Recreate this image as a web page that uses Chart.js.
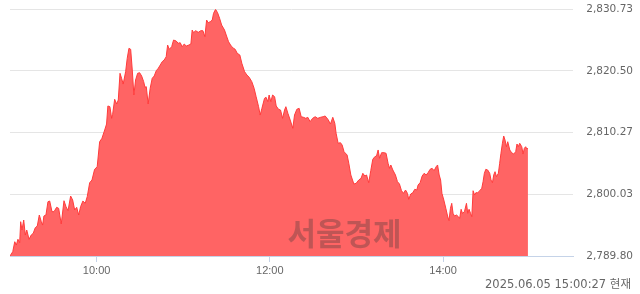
<!DOCTYPE html>
<html>
<head>
<meta charset="utf-8">
<script src="https://cdn.jsdelivr.net/npm/chart.js@4.4.1/dist/chart.umd.min.js"></script>
<style>
  body { margin: 0; background: #fff; }
  #wrap { width: 640px; height: 294px; }
</style>
</head>
<body>
<div id="wrap"><canvas id="kospiChart" width="640" height="294"></canvas></div>
<script>
// minutes after 09:00 and index values
const minutes = [
    0, 1.9, 3.3, 4.4, 5.5, 6.7, 7.4, 8.3, 9.5, 10.6,
    11.6, 13.2, 14.7, 16.1, 17.5, 18.9, 20.3, 21.7, 22.6, 23.5,
    24.9, 26.3, 27.5, 29.1, 30.5, 32.3, 33.7, 35.5, 37.4, 38.8,
    40.2, 42.0, 43.4, 44.8, 46.2, 47.6, 48.9, 50.5, 52.1, 53.5,
    55.2, 56.8, 58.6, 60.4, 62.1, 63.7, 65.6, 66.9, 67.8, 69.2,
    70.4, 71.1, 72.5, 73.9, 75.0, 76.2, 77.3, 78.4, 80.1, 81.2,
    82.4, 83.6, 84.7, 85.8, 87.0, 88.4, 89.8, 91.2, 92.6, 93.5,
    94.4, 95.7, 97.1, 98.5, 99.9, 101.3, 102.7, 104.1, 105.4, 106.8,
    108.2, 109.2, 110.3, 112.0, 113.3, 115.1, 116.5, 117.9, 119.3, 120.7,
    122.1, 123.9, 125.3, 126.2, 127.2, 128.6, 130.4, 132.2, 133.6, 135.0,
    136.2, 137.3, 138.7, 140.1, 141.0, 142.4, 143.8, 145.2, 146.6, 148.6,
    150.0, 151.4, 153.2, 154.9, 156.0, 157.4, 159.2, 160.6, 162.5, 164.1,
    165.7, 167.5, 169.1, 170.5, 172.2, 173.3, 174.5, 176.3, 177.4, 178.6,
    179.5, 180.7, 181.9, 183.3, 184.4, 186.0, 187.4, 188.8, 190.2, 191.1,
    192.5, 194.1, 195.9, 197.1, 198.7, 200.3, 201.7, 203.3, 204.9, 206.3,
    207.9, 209.6, 211.4, 213.2, 215.1, 216.9, 218.3, 220.2, 222.0, 223.6,
    225.0, 225.9, 227.3, 228.9, 230.1, 231.4, 233.5, 234.7, 236.1, 238.2,
    239.8, 241.6, 243.2, 244.4, 245.8, 247.0, 248.5, 249.9, 251.3, 252.7,
    253.9, 255.0, 256.0, 257.4, 259.1, 260.5, 261.9, 262.9, 263.8, 265.2,
    267.0, 268.4, 269.8, 271.2, 272.6, 274.0, 275.3, 276.2, 277.6, 279.0,
    280.4, 281.8, 282.7, 284.1, 285.5, 286.9, 288.3, 289.6, 291.0, 292.4,
    293.8, 295.2, 296.2, 297.3, 298.3, 299.2, 300.5, 301.9, 303.1, 304.1,
    305.1, 306.0, 306.9, 307.9, 309.3, 310.6, 311.5, 312.5, 313.4, 314.8,
    316.2, 317.1, 318.0, 319.0, 319.9, 320.8, 321.8, 322.7, 324.0, 325.4,
    326.8, 327.7, 328.6, 329.6, 330.9, 332.3, 333.2, 334.2, 335.1, 336.0,
    337.0, 338.3, 339.2, 340.1, 341.1, 342.0, 342.9, 343.9, 344.8, 346.2,
    347.5, 348.9, 350.3, 351.2, 352.1, 353.1, 354.5, 355.4, 356.3, 357.2, 358.1, 358.8
];
const values = [
    2789.80, 2790.51, 2792.17, 2791.62, 2792.57, 2792.01, 2795.49, 2794.11, 2795.77, 2793.28,
    2794.11, 2792.57, 2793.28, 2793.57, 2794.49, 2794.78, 2796.60, 2795.49, 2794.94, 2796.44,
    2796.60, 2798.81, 2798.92, 2797.15, 2797.15, 2797.88, 2797.71, 2795.11, 2798.97, 2797.98,
    2797.32, 2799.75, 2799.09, 2797.43, 2797.88, 2796.60, 2797.98, 2798.92, 2798.54, 2799.64,
    2801.96, 2802.41, 2804.18, 2804.61, 2808.76, 2809.33, 2810.70, 2811.70, 2814.69, 2814.57,
    2812.64, 2813.31, 2815.80, 2815.02, 2815.68, 2820.11, 2819.28, 2818.33, 2820.38, 2822.60,
    2824.26, 2824.09, 2820.66, 2816.51, 2819.00, 2820.11, 2820.21, 2819.66, 2818.72, 2817.79,
    2817.89, 2815.02, 2817.62, 2819.28, 2819.66, 2820.54, 2820.94, 2821.49, 2822.03, 2822.32,
    2822.86, 2824.80, 2824.09, 2824.52, 2825.63, 2825.47, 2825.09, 2825.19, 2824.52, 2824.97,
    2824.64, 2824.80, 2824.97, 2827.29, 2826.85, 2827.18, 2826.91, 2827.18, 2827.18, 2826.18,
    2828.95, 2828.51, 2828.67, 2828.95, 2830.06, 2830.73, 2830.16, 2829.23, 2828.12, 2827.29,
    2826.30, 2825.35, 2824.64, 2824.26, 2824.09, 2823.43, 2823.15, 2821.77, 2820.38, 2819.83,
    2819.45, 2818.72, 2817.62, 2816.23, 2814.57, 2813.19, 2814.30, 2815.96, 2816.13, 2815.40,
    2816.51, 2815.40, 2816.51, 2816.23, 2814.69, 2814.14, 2814.02, 2812.64, 2814.02, 2814.57,
    2813.47, 2812.36, 2810.99, 2813.19, 2814.14, 2814.30, 2812.91, 2812.81, 2812.64, 2812.81,
    2812.08, 2812.64, 2812.91, 2812.64, 2812.81, 2812.91, 2813.03, 2812.48, 2811.70, 2812.81,
    2811.82, 2810.16, 2808.50, 2808.60, 2808.21, 2807.10, 2806.56, 2805.18, 2803.24, 2801.74,
    2801.86, 2802.41, 2802.69, 2803.52, 2803.07, 2803.24, 2801.96, 2803.95, 2805.84, 2806.27,
    2806.39, 2807.39, 2806.01, 2806.94, 2806.94, 2806.84, 2805.18, 2804.35, 2804.90, 2804.07,
    2803.24, 2802.13, 2801.74, 2800.63, 2800.20, 2800.75, 2800.20, 2799.21, 2800.09, 2800.30,
    2800.87, 2800.75, 2801.58, 2801.96, 2803.07, 2803.52, 2803.24, 2803.62, 2804.18, 2804.35,
    2803.95, 2804.61, 2804.90, 2803.24, 2802.41, 2800.20, 2799.09, 2797.71, 2796.44, 2795.66,
    2797.71, 2798.54, 2796.88, 2796.44, 2796.60, 2796.32, 2796.05, 2797.55, 2796.88, 2797.15,
    2798.54, 2796.88, 2797.55, 2796.88, 2796.32, 2800.63, 2799.92, 2800.30, 2800.30, 2800.63,
    2801.03, 2802.13, 2803.52, 2804.18, 2804.07, 2803.52, 2802.41, 2801.96, 2803.24, 2803.79,
    2802.96, 2803.52, 2805.18, 2806.84, 2808.50, 2809.71, 2809.04, 2807.93, 2808.76, 2807.39,
    2806.94, 2806.72, 2807.10, 2808.38, 2807.93, 2808.50, 2807.93, 2806.72, 2807.67, 2807.93, 2807.55, 2807.67
];

const xTickMinutes = [60, 180, 300];
const xTickLabels = ['10:00', '12:00', '14:00'];
const yTicks = [2789.80, 2800.03, 2810.27, 2820.50, 2830.73];
const stampText = '2025.06.05 15:00:27 현재';
const watermarkText = '서울경제';

// 워터마크와 기준 시각 텍스트
const overlayPlugin = {
    id: 'overlay',
    afterDraw(chart) {
        const ctx = chart.ctx;
        ctx.save();
        ctx.font = 'bold 31px "Noto Sans CJK KR"';
        ctx.fillStyle = 'rgba(55, 55, 55, 0.32)';
        ctx.textAlign = 'center';
        ctx.textBaseline = 'middle';
        ctx.fillText(watermarkText, 344.5, 233);

        ctx.font = '11.5px "DejaVu Sans", "Noto Sans CJK KR"';
        ctx.fillStyle = '#666';
        ctx.textAlign = 'right';
        ctx.fillText(stampText, 631, 285.5);
        ctx.restore();
    }
};

const ctx = document.getElementById('kospiChart').getContext('2d');
new Chart(ctx, {
    type: 'line',
    data: {
        datasets: [{
            data: minutes.map((m, i) => ({ x: m, y: values[i] })),
            borderColor: '#ff3c3c',
            borderWidth: 1,
            backgroundColor: '#ff6464',
            fill: 'start',
            pointRadius: 0,
            tension: 0
        }]
    },
    options: {
        responsive: false,
        animation: false,
        devicePixelRatio: 1,
        layout: { padding: { top: 9, left: 10, right: 7, bottom: 0 } },
        plugins: {
            legend: { display: false },
            tooltip: { enabled: false }
        },
        scales: {
            x: {
                type: 'linear',
                min: 0,
                max: 390,
                afterBuildTicks: scale => { scale.ticks = xTickMinutes.map(v => ({ value: v })); },
                afterFit: scale => { scale.height = 38; },
                ticks: {
                    autoSkip: false,
                    maxRotation: 0,
                    padding: 2,
                    color: '#666',
                    font: { family: 'Liberation Sans', size: 11 },
                    callback: (v) => xTickLabels[xTickMinutes.indexOf(v)]
                },
                grid: { drawOnChartArea: false, drawTicks: true, tickLength: 6, color: '#c5d3e8' },
                border: { color: '#c5d3e8' }
            },
            y: {
                position: 'right',
                min: yTicks[0],
                max: yTicks[yTicks.length - 1],
                afterBuildTicks: scale => { scale.ticks = yTicks.map(v => ({ value: v })); },
                afterFit: scale => { scale.width = 60; },
                ticks: {
                    crossAlign: 'far',
                    color: '#666',
                    font: { family: 'DejaVu Sans', size: 10.5 },
                    callback: v => v.toLocaleString('en-US', { minimumFractionDigits: 2, maximumFractionDigits: 2 })
                },
                grid: { color: '#e5e5e5', drawTicks: false },
                border: { display: false }
            }
        }
    },
    plugins: [overlayPlugin]
});
</script>
</body>
</html>
